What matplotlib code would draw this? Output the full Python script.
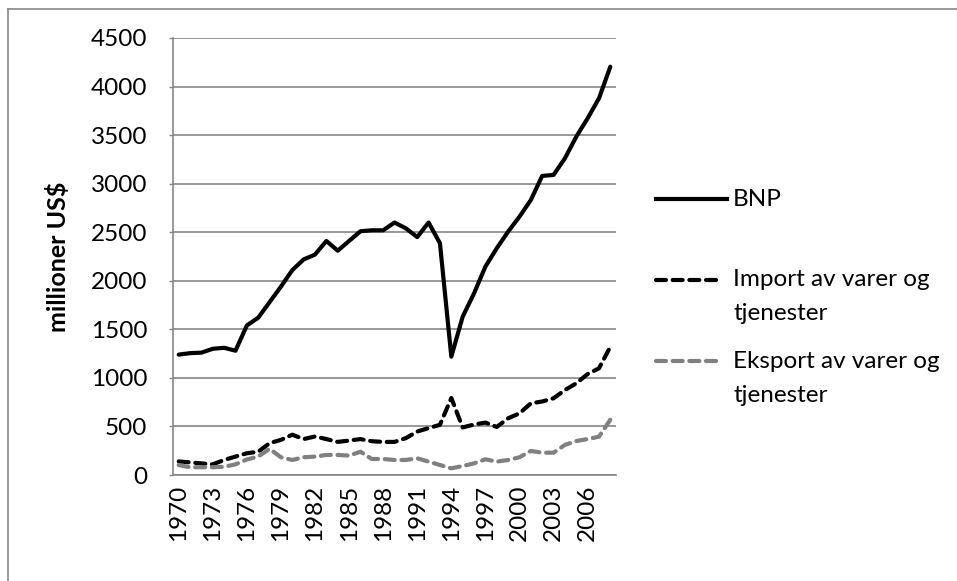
import numpy as np
import matplotlib.pyplot as plt
from matplotlib.lines import Line2D

plt.rcParams['font.family'] = ['Lato', 'DejaVu Sans']

years = list(range(1970, 2009))

bnp = [1240, 1255, 1260, 1300, 1310, 1280, 1540, 1620, 1780, 1940,
       2110, 2220, 2270, 2410, 2310, 2410, 2510, 2520, 2520, 2600,
       2540, 2450, 2600, 2386, 1219, 1630, 1871, 2146, 2335, 2506,
       2660, 2832, 3080, 3090, 3261, 3484, 3673, 3879, 4205]

imp = [140, 130, 120, 110, 155, 190, 224, 240, 328, 362,
       415, 370, 397, 370, 341, 355, 370, 348, 341, 341,
       380, 448, 483, 517, 793, 490, 520, 540, 495, 584,
       635, 738, 757, 790, 875, 944, 1040, 1099, 1321]

eks = [103, 80, 80, 80, 85, 110, 160, 190, 270, 183,
       155, 183, 190, 207, 207, 200, 240, 165, 165, 155,
       155, 172, 138, 103, 69, 93, 120, 162, 138, 155,
       183, 248, 230, 230, 310, 350, 370, 395, 570]

labels = ['BNP', 'Import av varer og\ntjenester', 'Eksport av varer og\ntjenester']

fs = 17.5
fig = plt.figure(figsize=(9.57, 5.81), dpi=100)
ax = fig.add_axes([0.1808, 0.1824, 0.4629, 0.7522])

x = np.arange(len(years))
lw = 3.0
dash = (2.4, 1.6)
ax.plot(x, bnp, color='black', lw=lw, solid_joinstyle='round', solid_capstyle='round')
ax.plot(x, imp, color='black', lw=lw, dashes=dash, dash_capstyle='round', dash_joinstyle='round')
ax.plot(x, eks, color='#808080', lw=lw, dashes=dash, dash_capstyle='round', dash_joinstyle='round')

ax.set_xlim(-0.5, len(years) - 0.5)
ax.set_ylim(0, 4500)
ax.set_yticks(np.arange(0, 4501, 500))
ax.set_xticks(x[::3])
ax.set_xticklabels([str(y) for y in years[::3]], rotation=90)
ax.tick_params(axis='x', length=0, pad=7, labelsize=fs)
ax.tick_params(axis='y', length=3, width=1, color='#868686', pad=15.5, labelsize=fs)
ax.grid(axis='y', color='#868686', lw=1.2)
ax.set_axisbelow(True)
for s in ['top', 'right']:
    ax.spines[s].set_visible(False)
for s in ['left', 'bottom']:
    ax.spines[s].set_color('#868686')
    ax.spines[s].set_linewidth(1.2)

fig.text(0.061, 1 - 257 / 581, 'millioner US$', rotation=90, ha='center', va='center',
         fontsize=18, fontweight='bold')

# legend drawn by hand to match the Excel layout
legend_y = [199, 280, 361]
line_end = [727, 719, 719]
styles = [dict(color='black'), dict(color='black', dashes=dash, dash_capstyle='round'),
          dict(color='#808080', dashes=dash, dash_capstyle='round')]
for ly, le, lab, st in zip(legend_y, line_end, labels, styles):
    yf = 1 - ly / 581
    fig.add_artist(Line2D([656 / 957, le / 957], [yf, yf], lw=lw, **st))
    fig.text(733 / 957, yf, lab.split('\n')[0], ha='left', va='center', fontsize=fs)
    if '\n' in lab:
        fig.text(733 / 957, yf - 34 / 581, lab.split('\n')[1], ha='left', va='center', fontsize=fs)

# chart border (left and top edges visible)
fig.add_artist(Line2D([8 / 957, 8 / 957], [0, 1 - 9 / 581], color='#868686', lw=1.2))
fig.add_artist(Line2D([8 / 957, 1], [1 - 9 / 581, 1 - 9 / 581], color='#868686', lw=1.2))

fig.savefig('out.png', dpi=100)
